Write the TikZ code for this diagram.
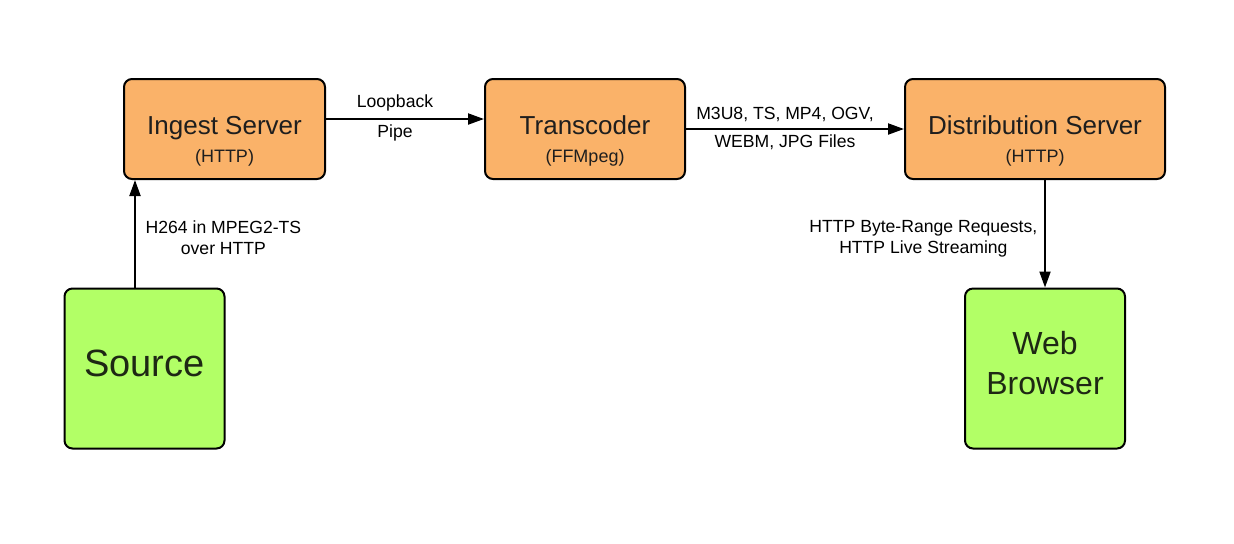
\documentclass[tikz,border=0pt]{standalone}
\usepackage{fontspec}
\setmainfont{Liberation Sans}
\usetikzlibrary{arrows.meta}
\definecolor{srvfill}{RGB}{250,178,105}
\definecolor{endfill}{RGB}{178,255,102}
\definecolor{boxtext}{RGB}{30,30,30}
\definecolor{endtext}{RGB}{30,40,20}

\begin{document}
\begin{tikzpicture}[x=0.5pt, y=-0.5pt,
    srv/.style={draw, line width=1pt, rounded corners=4pt, fill=srvfill,
      minimum height=50pt, text=boxtext, text height=9pt, text depth=3.2pt,
      font=\fontsize{13}{15}\selectfont},
    subtxt/.style={yshift=-14.5pt, text=boxtext, font=\fontsize{9}{11}\selectfont},
    ep/.style={draw, line width=1pt, rounded corners=4pt, fill=endfill,
      minimum width=80pt, minimum height=80pt},
    eptxt/.style={yshift=2.75pt, align=center, text=endtext},
    flow/.style={-{Triangle[length=8pt,width=5.5pt]}, line width=1pt},
    lbl/.style={align=center, font=\fontsize{8.8}{10.5}\selectfont}]
     \useasboundingbox (0,0) rectangle (1234,543);
     \node [srv, minimum width=100.5pt, label={[subtxt]center:(HTTP)}] (IS) at (224.5,129) {Ingest Server};
     \node [srv, minimum width=100pt, label={[subtxt]center:(FFMpeg)}] (TC) at (585,129) {Transcoder};
     \node [srv, minimum width=130pt, label={[subtxt]center:(HTTP)}] (DS) at (1035,129) {Distribution Server};
     \node [ep, label={[eptxt, font=\fontsize{19}{23}\selectfont]center:Source}] (SRC) at (144.5,368.5) {};
     \node [ep, label={[eptxt, font=\fontsize{16}{20}\selectfont]center:{Web\\Browser}}] (WB) at (1045,368.5) {};
     % arrows with their labels
     \draw [flow] ([xshift=-4.75pt]SRC.north) -- node [lbl, right, xshift=1.5pt, yshift=-2pt] {H264 in MPEG2-TS\\over HTTP} ([xshift=-4.75pt]SRC.north |- IS.south);
     \draw [flow] ([yshift=5pt]IS.east) -- node [lbl, above, xshift=-5pt] {Loopback} node [lbl, below=-1pt, xshift=-5pt] {Pipe} ([yshift=5pt]TC.west);
     \draw [flow] (TC) -- node [lbl, above, xshift=-5pt] {M3U8, TS, MP4, OGV,} node [lbl, below=-1pt, xshift=-5pt] {WEBM, JPG Files} (DS);
     \draw [flow] (DS.south -| WB.north) -- node [lbl, left, yshift=-2.5pt] {HTTP Byte-Range Requests,\\HTTP Live Streaming} (WB.north);
\end{tikzpicture}
\end{document}
